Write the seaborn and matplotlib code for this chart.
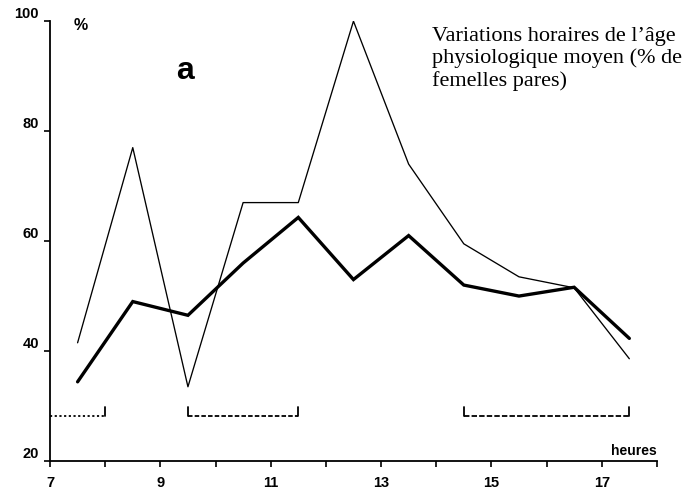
import matplotlib
matplotlib.use("Agg")
import matplotlib.pyplot as plt
import numpy as np
import pandas as pd
import seaborn as sns

# Hourly means of physiological age (% parous females)
hours = [7.5, 8.5, 9.5, 10.5, 11.5, 12.5, 13.5, 14.5, 15.5, 16.5, 17.5]
thin_series = [41.5, 77, 33.5, 67, 67, 100, 74, 59.5, 53.5, 51.5, 38.6]
thick_series = [34.4, 49, 46.5, 56, 64.3, 53, 61, 52, 50, 51.6, 42.3]

# Observation periods marked under the curves
period_starts = [7, 9.5, 14.5]
period_ends = [8, 11.5, 17.5]
period_level = 28.2
period_tick_top = 29.8

x_ticks = list(range(7, 19))
x_labels = ["7", "", "9", "", "11", "", "13", "", "15", "", "17", ""]
y_ticks = [20, 40, 60, 80, 100]

sns.set_theme(style="ticks")
plt.rcParams["font.family"] = ["Liberation Sans Narrow", "Liberation Sans", "DejaVu Sans"]
plt.rcParams["text.color"] = "black"

fig = plt.figure(figsize=(6.85, 4.92), dpi=100)
ax = fig.add_axes([0.073, 0.063, 0.886, 0.894])

df = pd.DataFrame({"heure": hours, "fin": thin_series, "epais": thick_series})
sns.lineplot(data=df, x="heure", y="fin", ax=ax, color="black", linewidth=0.95)
sns.lineplot(data=df, x="heure", y="epais", ax=ax, color="black", linewidth=2.4,
             solid_joinstyle="miter")

# Period brackets
styles = [(0, (1.2, 1.4)), (0, (2.5, 1.2)), (0, (3, 1.2))]
for i, (s, e) in enumerate(zip(period_starts, period_ends)):
    ax.plot([s, e], [period_level, period_level], color="black", lw=1.3,
            linestyle=styles[i])
    if i > 0:
        ax.plot([s, s], [period_level, period_tick_top], color="black", lw=1.3)
    ax.plot([e, e], [period_level, period_tick_top], color="black", lw=1.3)

ax.set_xlim(7, 18)
ax.set_ylim(20, 100)
ax.set_xticks(x_ticks)
ax.set_xticklabels(x_labels, fontweight="bold", fontsize=10.5)
ax.set_yticks(y_ticks)
ax.set_yticklabels([str(v) for v in y_ticks], fontweight="bold", fontsize=10.5)
for lab in ax.get_yticklabels():
    lab.set_verticalalignment("bottom")
ax.tick_params(axis="both", direction="out", length=4, width=1.2,
               color="black", labelcolor="black")
ax.tick_params(axis="x", pad=7)
ax.tick_params(axis="y", pad=4)
ax.set_xlabel("")
ax.set_ylabel("")
sns.despine(ax=ax)
for sp in ("left", "bottom"):
    ax.spines[sp].set_linewidth(1.3)
    ax.spines[sp].set_color("black")

ax.text(7.42, 100.6, "%", fontsize=11.5, fontweight="bold", ha="left", va="top",
        color="black")
ax.text(9.45, 90.9, "a", fontsize=23, fontweight="bold", ha="center", va="center",
        color="black")
ax.text(18, 20.6, "heures", fontsize=10, fontweight="bold", ha="right",
        va="bottom", color="black")
ax.text(13.93, 98.9,
        "Variations horaires de l\u2019âge\nphysiologique moyen (% de\nfemelles pares)",
        fontsize=16, family=["Liberation Serif"], ha="left", va="top",
        linespacing=1.17, color="black")

fig.savefig("out.png", dpi=100, facecolor="white")
